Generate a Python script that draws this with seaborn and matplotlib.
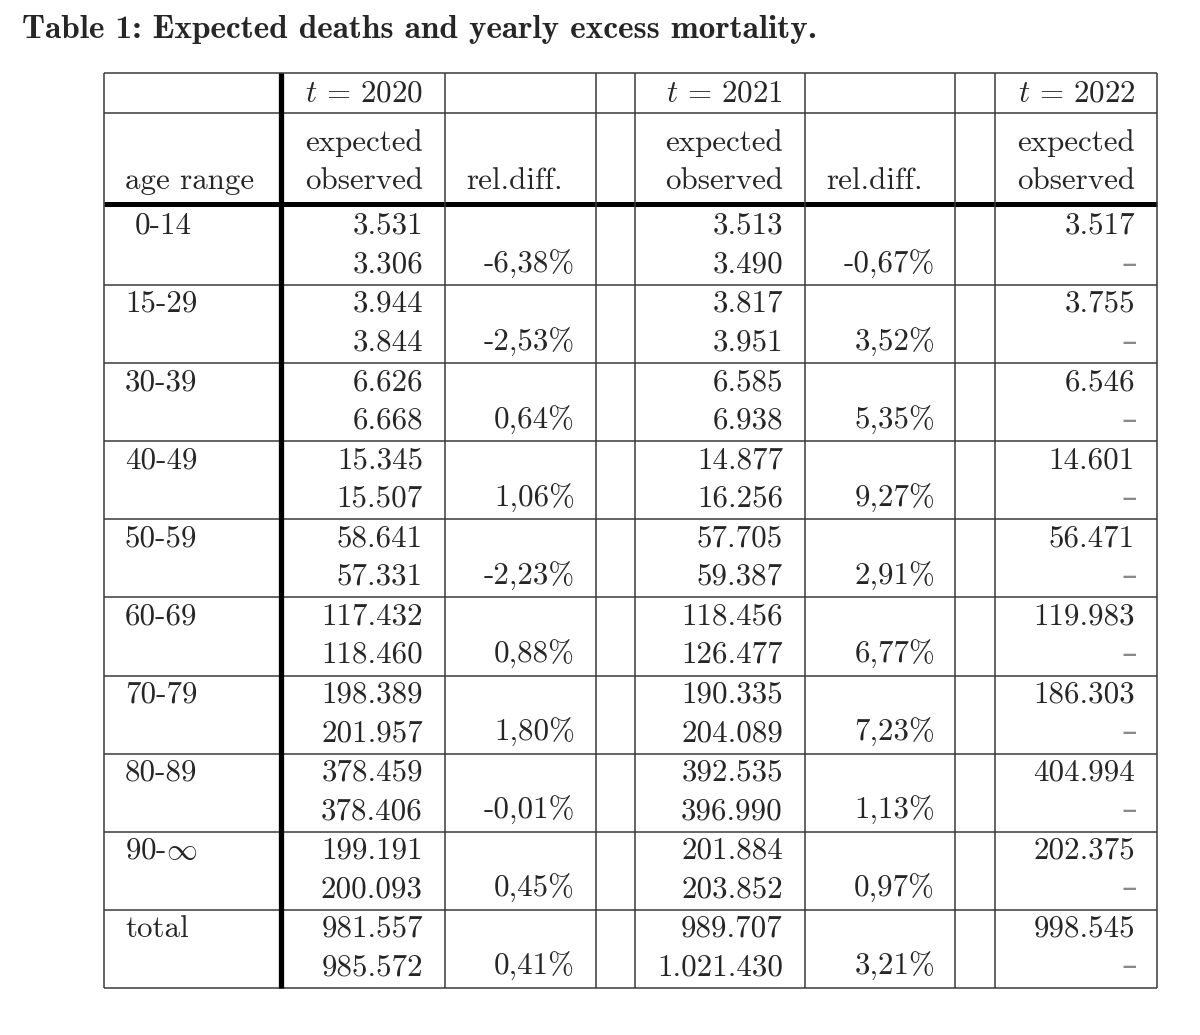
import matplotlib
matplotlib.use("Agg")
import matplotlib.pyplot as plt
import seaborn as sns

# Table values (as printed, German decimal style)
age_ranges = ["0-14", "15-29", "30-39", "40-49", "50-59", "60-69",
              "70-79", "80-89", r"90-$\infty$", "total"]
years = ["2020", "2021", "2022"]

expected_2020 = ["3.531", "3.944", "6.626", "15.345", "58.641", "117.432",
                 "198.389", "378.459", "199.191", "981.557"]
observed_2020 = ["3.306", "3.844", "6.668", "15.507", "57.331", "118.460",
                 "201.957", "378.406", "200.093", "985.572"]
reldiff_2020 = ["-6,38%", "-2,53%", "0,64%", "1,06%", "-2,23%", "0,88%",
                "1,80%", "-0,01%", "0,45%", "0,41%"]

expected_2021 = ["3.513", "3.817", "6.585", "14.877", "57.705", "118.456",
                 "190.335", "392.535", "201.884", "989.707"]
observed_2021 = ["3.490", "3.951", "6.938", "16.256", "59.387", "126.477",
                 "204.089", "396.990", "203.852", "1.021.430"]
reldiff_2021 = ["-0,67%", "3,52%", "5,35%", "9,27%", "2,91%", "6,77%",
                "7,23%", "1,13%", "0,97%", "3,21%"]

expected_2022 = ["3.517", "3.755", "6.546", "14.601", "56.471", "119.983",
                 "186.303", "404.994", "202.375", "998.545"]
observed_2022 = ["\u2013"] * 10

title = "Table 1: Expected deaths and yearly excess mortality."

sns.set_theme(style="white")
plt.rcParams["font.family"] = ["cmr10", "DejaVu Serif"]
plt.rcParams["mathtext.fontset"] = "cm"
plt.rcParams["axes.unicode_minus"] = False

fig = plt.figure(figsize=(12, 10.35), dpi=100)
ax = fig.add_axes([0, 0, 1, 1])
ax.set_xlim(0, 1200)
ax.set_ylim(1035, 0)
ax.axis("off")

# grid geometry (pixels)
left, right = 104, 1157
col_lines = [445, 596, 635, 805, 955, 995]
thick_x = 280.5
top, head_split, head_rule = 73, 112.5, 204
row0, row_h = 285, 78.1
n = len(age_ranges)
bottom = row0 + row_h * (n - 1)

line_col = "#3a3a3a"
hl = [top, head_split] + [row0 + row_h * k for k in range(n)]
ax.hlines(hl, left, right, color=line_col, lw=1.1)
ax.hlines(head_rule, left, right, color="black", lw=3.6)
ax.vlines([left, right] + col_lines, top, bottom, color=line_col, lw=1.1)
ax.vlines(thick_x, top, bottom, color="black", lw=3.8)

fs = 22.3
num_right = [423, 783, 1135]
rel_right = [575, 935]
rel_left = [466, 826]

# header
for x, y in zip(num_right, years):
    ax.text(x, 101, rf"$t\,=\,{y}$", ha="right", va="baseline", fontsize=fs)
    ax.text(x, 151, "expected", ha="right", va="baseline", fontsize=fs)
    ax.text(x, 189, "observed", ha="right", va="baseline", fontsize=fs)
ax.text(125, 189, "age range", ha="left", va="baseline", fontsize=fs)
for x in rel_left:
    ax.text(x, 189, "rel.diff.", ha="left", va="baseline", fontsize=fs)

# body
cols_exp = [expected_2020, expected_2021, expected_2022]
cols_obs = [observed_2020, observed_2021, observed_2022]
cols_rel = [reldiff_2020, reldiff_2021]
for i, age in enumerate(age_ranges):
    t = 207 if i == 0 else row0 + row_h * (i - 1)
    b1, b2 = t + 27, t + 65.5
    ax.text(135 if i == 0 else 125, b1, age, ha="left", va="baseline", fontsize=fs)
    for x, e, o in zip(num_right, cols_exp, cols_obs):
        ax.text(x, b1, e[i], ha="right", va="baseline", fontsize=fs)
        if o[i] == "\u2013":
            # en dash for "no data yet"
            ax.text(x + 2, b2, o[i], ha="right", va="baseline", fontsize=fs,
                    color="#8a8a8a", family=["DejaVu Sans"])
        else:
            ax.text(x, b2, o[i], ha="right", va="baseline", fontsize=fs)
    for x, r in zip(rel_right, cols_rel):
        ax.text(x, b2, r[i], ha="right", va="baseline", fontsize=fs)

ax.text(22, 37.5, title, ha="left", va="baseline", fontsize=24, family=["cmb10"])

fig.savefig("out.png", dpi=100, facecolor="white")
